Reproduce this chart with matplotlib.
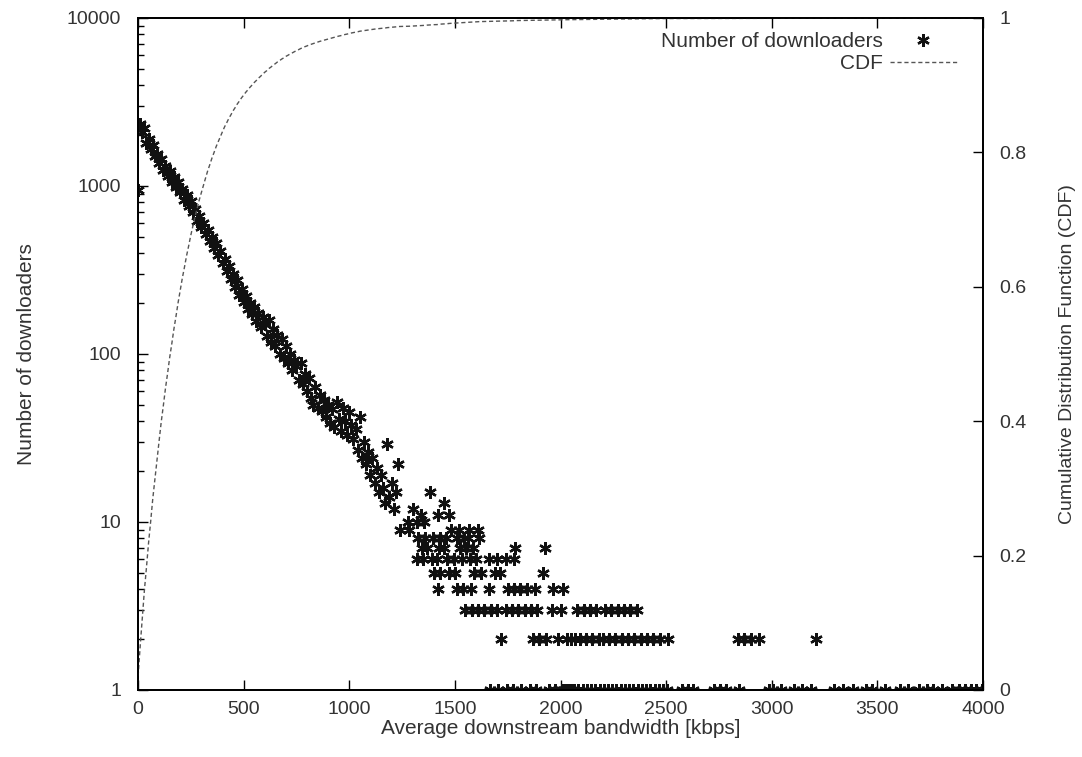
import numpy as np
import matplotlib
matplotlib.use("Agg")
import matplotlib.pyplot as plt
from matplotlib.ticker import NullFormatter, LogLocator

# ---- data: dense part of the histogram (bandwidth bin [kbps] -> number of downloaders)
bw_dense = [0, 10, 20, 30, 40, 50, 60, 70, 80, 90,
            100, 110, 120, 130, 140, 150, 160, 170, 180, 190,
            200, 210, 220, 230, 240, 250, 260, 270, 280, 290,
            300, 310, 320, 330, 340, 350, 360, 370, 380, 390,
            400, 410, 420, 430, 440, 450, 460, 470, 480, 490,
            500, 510, 520, 530, 540, 550, 560, 570, 580, 590,
            600, 610, 620, 630, 640, 650, 660, 670, 680, 690,
            700, 710, 720, 730, 740, 750, 760, 770, 780, 790,
            800, 810, 820, 830, 840, 850, 860, 870, 880, 890,
            900, 910, 920, 930, 940, 950, 960, 970, 980, 990,
            1000, 1010, 1020, 1030, 1040, 1050, 1060, 1070, 1080, 1090,
            1100, 1110, 1120, 1130, 1140, 1150, 1160, 1170, 1180, 1190,
            1200, 1210, 1220, 1230]
cnt_dense = [950, 2350, 2100, 2200, 1800, 1900, 1650, 1750, 1500, 1560,
             1380, 1450, 1250, 1320, 1150, 1220, 1060, 1130, 990, 1050,
             920, 960, 830, 880, 760, 810, 700, 730, 620, 660,
             570, 600, 520, 550, 470, 500, 430, 455, 390, 410,
             350, 370, 310, 335, 280, 300, 250, 275, 225, 245,
             205, 222, 185, 200, 172, 190, 158, 175, 145, 165,
             150, 128, 160, 118, 140, 112, 130, 100, 122, 95,
             112, 88, 100, 80, 92, 85, 70, 88, 66, 76,
             60, 72, 55, 50, 64, 48, 57, 46, 53, 42,
             50, 39, 47, 37, 52, 41, 35, 48, 40, 33,
             45, 38, 31, 36, 27, 42, 24, 30, 22, 26,
             19, 24, 17, 21, 15, 19, 16, 13, 29, 14,
             17, 12, 15, 22]

# ---- sparse tail: bandwidth bins per observed count
bw_cnt_15 = [1380]
bw_cnt_13 = [1450]
bw_cnt_12 = [1300]
bw_cnt_11 = [1340, 1420, 1470]
bw_cnt_10 = [1280, 1320, 1355]
bw_cnt_9 = [1240, 1285, 1480, 1520, 1565, 1610]
bw_cnt_8 = [1325, 1360, 1395, 1430, 1460, 1510, 1545, 1560, 1615]
bw_cnt_7 = [1345, 1370, 1425, 1450, 1525, 1555, 1585, 1785, 1925]
bw_cnt_6 = [1320, 1350, 1390, 1415, 1465, 1495, 1535, 1570, 1600, 1660,
            1700, 1740, 1780]
bw_cnt_5 = [1400, 1430, 1470, 1500, 1590, 1625, 1690, 1715, 1915]
bw_cnt_4 = [1420, 1510, 1540, 1575, 1660, 1750, 1780, 1810, 1840, 1880,
            1965, 2010]
bw_cnt_3 = [1550, 1580, 1610, 1640, 1670, 1700, 1740, 1770, 1800, 1830,
            1860, 1890, 1960, 2000, 2080, 2110, 2140, 2170, 2210, 2240,
            2270, 2300, 2330, 2360]
bw_cnt_2 = [1720, 1870, 1900, 1930, 1990, 2030, 2050, 2070, 2090, 2120,
            2150, 2180, 2200, 2230, 2260, 2290, 2320, 2350, 2380, 2410,
            2440, 2470, 2510, 2840, 2870, 2900, 2940, 3210]
bw_cnt_1 = [1665, 1705, 1745, 1775, 1815, 1855, 1885, 1945, 1975, 2005,
            2015, 2025, 2035, 2045, 2055, 2065, 2085, 2105, 2125, 2145,
            2165, 2185, 2205, 2225, 2245, 2265, 2285, 2305, 2325, 2345,
            2365, 2385, 2405, 2425, 2445, 2465, 2485, 2505, 2575, 2605,
            2625, 2725, 2755, 2785, 2845, 2985, 3005, 3045, 3105, 3145,
            3185, 3295, 3335, 3385, 3445, 3475, 3535, 3605, 3645, 3695,
            3735, 3765, 3805, 3855, 3885, 3915, 3945, 3965, 3995]

tail_rows = [(15, bw_cnt_15), (13, bw_cnt_13), (12, bw_cnt_12), (11, bw_cnt_11),
             (10, bw_cnt_10), (9, bw_cnt_9), (8, bw_cnt_8), (7, bw_cnt_7),
             (6, bw_cnt_6), (5, bw_cnt_5), (4, bw_cnt_4), (3, bw_cnt_3),
             (2, bw_cnt_2), (1, bw_cnt_1)]

bw = list(bw_dense)
cnt = list(cnt_dense)
for c, xs in tail_rows:
    bw += xs
    cnt += [c] * len(xs)
bw = np.array(bw, dtype=float)
cnt = np.array(cnt, dtype=float)

order = np.argsort(bw, kind="stable")
bw_sorted = bw[order]
cdf = np.cumsum(cnt[order]) / cnt.sum()
cdf_x = np.concatenate([[0.0], bw_sorted, [4000.0]])
cdf_y = np.concatenate([[0.0], cdf, [1.0]])

# ---- plotting
plt.rcParams['font.family'] = ['Liberation Sans', 'DejaVu Sans']
txt = '#333333'
fig = plt.figure(figsize=(10.82, 7.57), dpi=100)
ax = fig.add_axes([138/1082, 1-690/757, (983-138)/1082, (690-18)/757])
ax2 = ax.twinx()

star = (6, 2, 0)
h1, = ax.plot(bw, cnt, linestyle='none', marker=star, markersize=9,
              markeredgewidth=1.7, color='#111111', label='Number of downloaders')
h2, = ax2.plot(cdf_x, cdf_y, linestyle=(0, (3, 2)), linewidth=1.0,
               color='#555555', label='CDF')

ax.set_yscale('log')
ax.set_xlim(0, 4000)
ax.set_ylim(1, 10000)
ax2.set_ylim(0, 1)

ax.set_xticks([0, 500, 1000, 1500, 2000, 2500, 3000, 3500, 4000])
ax.set_yticks([1, 10, 100, 1000, 10000])
ax.set_yticklabels(['1', '10', '100', '1000', '10000'])
ax.yaxis.set_minor_locator(LogLocator(base=10, subs=np.arange(2, 10), numticks=20))
ax.yaxis.set_minor_formatter(NullFormatter())
ax2.set_yticks([0, 0.2, 0.4, 0.6, 0.8, 1.0])
ax2.set_yticklabels(['0', '0.2', '0.4', '0.6', '0.8', '1'])

for a in (ax, ax2):
    a.tick_params(axis='both', which='major', direction='in', length=7,
                  width=1, labelsize=14, labelcolor=txt, pad=12)
    a.tick_params(axis='both', which='minor', direction='in', length=4, width=1)
    for s in a.spines.values():
        s.set_linewidth(1.3)
ax.tick_params(axis='x', top=True, pad=8)

ax.set_xlabel('Average downstream bandwidth [kbps]', fontsize=15, color=txt, labelpad=1)
ax.set_ylabel('Number of downloaders', fontsize=15, color=txt, labelpad=22)
ax2.set_ylabel('Cumulative Distribution Function (CDF)', fontsize=14, color=txt, labelpad=23)

leg = ax.legend([h1, h2], ['Number of downloaders', 'CDF'], loc='upper right',
                bbox_to_anchor=(0.969, 0.979), frameon=False, markerfirst=False,
                fontsize=15, handlelength=3.2, handletextpad=0.35, labelspacing=0.15,
                borderpad=0.0, borderaxespad=0.0)
for t in leg.get_texts():
    t.set_color(txt)

fig.savefig('out.png', dpi=100)
